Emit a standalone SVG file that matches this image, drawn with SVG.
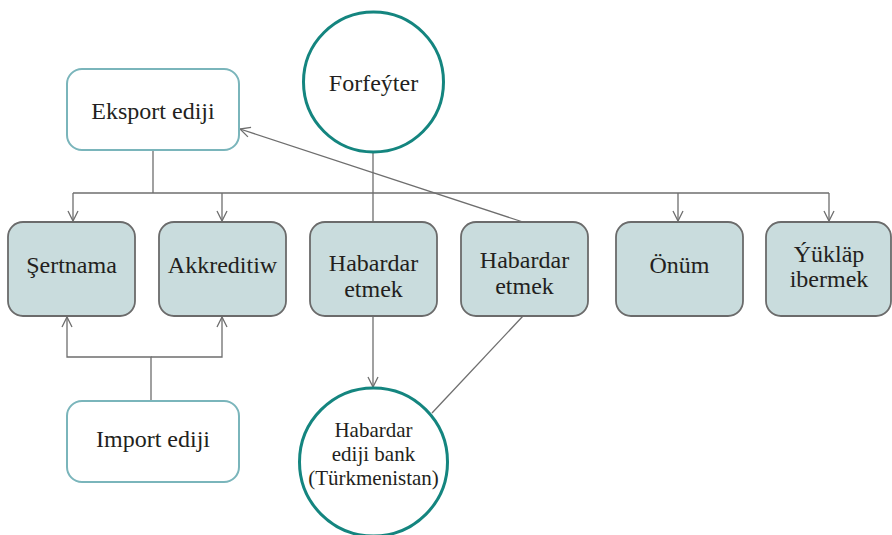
<svg xmlns="http://www.w3.org/2000/svg" width="892" height="535" viewBox="0 0 892 535">
<style>
.t{font-family:"Liberation Serif","Times New Roman",serif;font-size:24px;fill:#231f20;text-anchor:middle}
.s{font-size:21px}
.box{fill:#c9dcdd;stroke:#6b6b6b;stroke-width:1.8}
.wbox{fill:#fff;stroke:#7ab5bb;stroke-width:2}
.circ{fill:#fff;stroke:#14857f;stroke-width:3}
.ln{fill:none;stroke:#6e6e6e;stroke-width:1.3}
</style>
<defs>
<marker id="a" viewBox="0 0 12 12" refX="11" refY="6" markerWidth="12" markerHeight="12" markerUnits="userSpaceOnUse" orient="auto">
<path d="M1,1 L11,6 L1,11" fill="none" stroke="#6e6e6e" stroke-width="1.3"/>
</marker>
</defs>
<g id="connectors">
<path class="ln" d="M153,150 V193"/>
<path class="ln" d="M73,193 H829"/>
<path class="ln" d="M73,193 V221" marker-end="url(#a)"/>
<path class="ln" d="M222,193 V221" marker-end="url(#a)"/>
<path class="ln" d="M678,193 V221" marker-end="url(#a)"/>
<path class="ln" d="M829,193 V221" marker-end="url(#a)"/>
<path class="ln" d="M373,152 V222"/>
<path class="ln" d="M523,222 L240,129" marker-end="url(#a)"/>
<path class="ln" d="M373,316 V387" marker-end="url(#a)"/>
<path class="ln" d="M523,316 L432,413"/>
<path class="ln" d="M151,401 V357 H67 V317" marker-end="url(#a)"/>
<path class="ln" d="M151,357 H222 V317" marker-end="url(#a)"/>
</g>
<g id="eksport"><rect class="wbox" x="67" y="69" width="172" height="81" rx="15"/><text class="t" x="153" y="119">Eksport ediji</text></g>
<g id="forfeyter"><circle class="circ" cx="373.5" cy="82" r="70"/><text class="t" x="373.5" y="91">Forfeýter</text></g>
<g id="sertnama"><rect class="box" x="8" y="222" width="127" height="94" rx="15"/><text class="t" x="71.5" y="273">Şertnama</text></g>
<g id="akkreditiw"><rect class="box" x="159" y="222" width="127" height="94" rx="15"/><text class="t" x="222.5" y="273">Akkreditiw</text></g>
<g id="habardar1"><rect class="box" x="310" y="222" width="127" height="94" rx="15"/><text class="t" x="373.5" y="271">Habardar</text><text class="t" x="373.5" y="297">etmek</text></g>
<g id="habardar2"><rect class="box" x="461" y="222" width="127" height="94" rx="15"/><text class="t" x="524.5" y="268">Habardar</text><text class="t" x="524.5" y="294">etmek</text></g>
<g id="onum"><rect class="box" x="616" y="222" width="127" height="94" rx="15"/><text class="t" x="679.5" y="273">Önüm</text></g>
<g id="yuklap"><rect class="box" x="766" y="222" width="125" height="94" rx="15"/><text class="t" x="829" y="262">Ýükläp</text><text class="t" x="829" y="287">ibermek</text></g>
<g id="import"><rect class="wbox" x="67" y="401" width="172" height="81" rx="15"/><text class="t" x="153" y="447">Import ediji</text></g>
<g id="bank"><circle class="circ" cx="373.5" cy="462" r="74"/><text class="t s" x="373.5" y="437">Habardar</text><text class="t s" x="373.5" y="461">ediji bank</text><text class="t s" x="373.5" y="485">(Türkmenistan)</text></g>
</svg>
